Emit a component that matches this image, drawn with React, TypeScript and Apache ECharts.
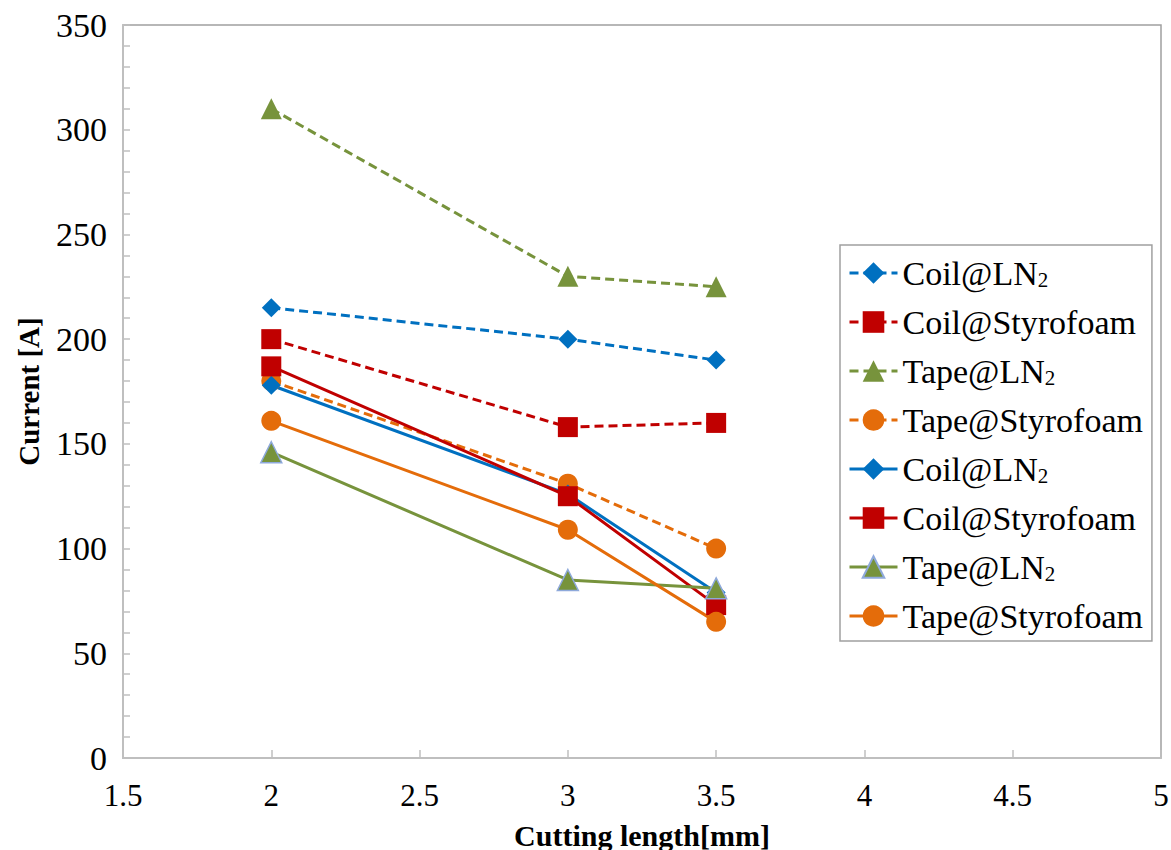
import React, { useEffect, useRef } from "react";
import * as echarts from "echarts";

// ---- data ----
const xValues = [2, 3, 3.5];
const xTicks = [1.5, 2, 2.5, 3, 3.5, 4, 4.5, 5];
const yTicks = [0, 50, 100, 150, 200, 250, 300, 350];

const coilLN2Dashed = [215, 200, 190];
const coilStyroDashed = [200, 158, 160];
const tapeLN2Dashed = [310, 230, 225];
const tapeStyroDashed = [180, 131, 100];
const coilLN2Solid = [178, 126, 79];
const coilStyroSolid = [187, 125, 73];
const tapeLN2Solid = [146, 85, 81];
const tapeStyroSolid = [161, 109, 65];

const seriesLabels = [
  "Coil@LN2",
  "Coil@Styrofoam",
  "Tape@LN2",
  "Tape@Styrofoam",
  "Coil@LN2",
  "Coil@Styrofoam",
  "Tape@LN2",
  "Tape@Styrofoam",
];
const seriesKeys = [
  "Coil@LN2 (dashed)",
  "Coil@Styrofoam (dashed)",
  "Tape@LN2 (dashed)",
  "Tape@Styrofoam (dashed)",
  "Coil@LN2 (solid)",
  "Coil@Styrofoam (solid)",
  "Tape@LN2 (solid)",
  "Tape@Styrofoam (solid)",
];
const seriesValues = [
  coilLN2Dashed,
  coilStyroDashed,
  tapeLN2Dashed,
  tapeStyroDashed,
  coilLN2Solid,
  coilStyroSolid,
  tapeLN2Solid,
  tapeStyroSolid,
];

const BLUE = "#0070C0";
const RED = "#C00000";
const GREEN = "#77933C";
const ORANGE = "#E46C0A";
const colors = [BLUE, RED, GREEN, ORANGE, BLUE, RED, GREEN, ORANGE];
const symbols = ["diamond", "rect", "triangle", "circle", "diamond", "rect", "triangle", "circle"];
const symbolSizes = [19, 20, 21, 20, 19, 20, 21, 20];
const FONT = "'Liberation Serif', 'Times New Roman', serif";

export default function App() {
  const ref = useRef<HTMLDivElement>(null);

  useEffect(() => {
    if (!ref.current) return;
    const chart = echarts.init(ref.current, undefined, { renderer: "svg" });

    const series = seriesKeys.map((key, i) => {
      const dashed = i < 4;
      const isTapeLN2Solid = i === 6;
      return {
        name: key,
        type: "line",
        data: xValues.map((x, j) => [x, seriesValues[i][j]]),
        symbol: symbols[i],
        symbolSize: symbolSizes[i],
        showSymbol: true,
        lineStyle: {
          color: colors[i],
          width: 3,
          type: dashed ? [9, 5] : "solid",
        },
        itemStyle: {
          color: colors[i],
          borderColor: isTapeLN2Solid ? "#8EA9DB" : colors[i],
          borderWidth: isTapeLN2Solid ? 1.5 : 0,
        },
        emphasis: { disabled: true },
        z: 2,
      };
    });

    chart.setOption({
      animation: false,
      backgroundColor: "#ffffff",
      grid: {
        left: 123,
        right: 10,
        top: 25,
        bottom: 92,
        show: true,
        borderColor: "#a0a0a0",
        borderWidth: 1.5,
        backgroundColor: "transparent",
        outerBoundsMode: "none",
      },
      xAxis: {
        type: "value",
        min: xTicks[0],
        max: xTicks[xTicks.length - 1],
        interval: 0.5,
        name: "Cutting length[mm]",
        nameLocation: "middle",
        nameGap: 62,
        nameTextStyle: { fontFamily: FONT, fontSize: 30, fontWeight: "bold", color: "#000" },
        axisLine: { show: true, onZero: false, lineStyle: { color: "#bfbfbf", width: 2 } },
        axisTick: { show: true, inside: true, length: 8, lineStyle: { color: "#bfbfbf", width: 1.5 } },
        axisLabel: { fontFamily: FONT, fontSize: 31, color: "#000", margin: 22 },
        splitLine: { show: false },
      },
      yAxis: {
        type: "value",
        min: yTicks[0],
        max: yTicks[yTicks.length - 1],
        interval: 50,
        name: "Current [A]",
        nameLocation: "middle",
        nameGap: 80,
        nameTextStyle: { fontFamily: FONT, fontSize: 29, fontWeight: "bold", color: "#000" },
        axisLine: { show: true, onZero: false, lineStyle: { color: "#bfbfbf", width: 2 } },
        axisTick: { show: true, inside: true, length: 7, lineStyle: { color: "#bfbfbf", width: 1.5 } },
        minorTick: { show: true, splitNumber: 5, length: 7, lineStyle: { color: "#bfbfbf", width: 1.5 } },
        axisLabel: { fontFamily: FONT, fontSize: 34, color: "#000", margin: 16 },
        splitLine: { show: false },
      },
      legend: {
        show: true,
        orient: "vertical",
        left: 840,
        top: 245,
        data: seriesKeys,
        itemWidth: 48,
        itemHeight: 27,
        itemGap: 15,
        padding: [11, 9, 8, 8],
        borderColor: "#a0a0a0",
        borderWidth: 1.5,
        backgroundColor: "#ffffff",
        selectedMode: false,
        lineStyle: { width: 3 },
        formatter: (name: string) => {
          const idx = seriesKeys.indexOf(name);
          const label = idx >= 0 ? seriesLabels[idx] : name;
          return label.replace("LN2", "LN{sub|2}");
        },
        textStyle: {
          fontFamily: FONT,
          fontSize: 34,
          color: "#000",
          lineHeight: 34,
          rich: {
            sub: {
              fontFamily: FONT,
              fontSize: 21,
              color: "#000",
              verticalAlign: "bottom",
              lineHeight: 27,
            },
          },
        },
      },
      series,
    });

    return () => chart.dispose();
  }, []);

  return (
    <div
      ref={ref}
      style={{ position: "fixed", left: 0, top: 0, width: 1171, height: 850, background: "#fff" }}
    />
  );
}
